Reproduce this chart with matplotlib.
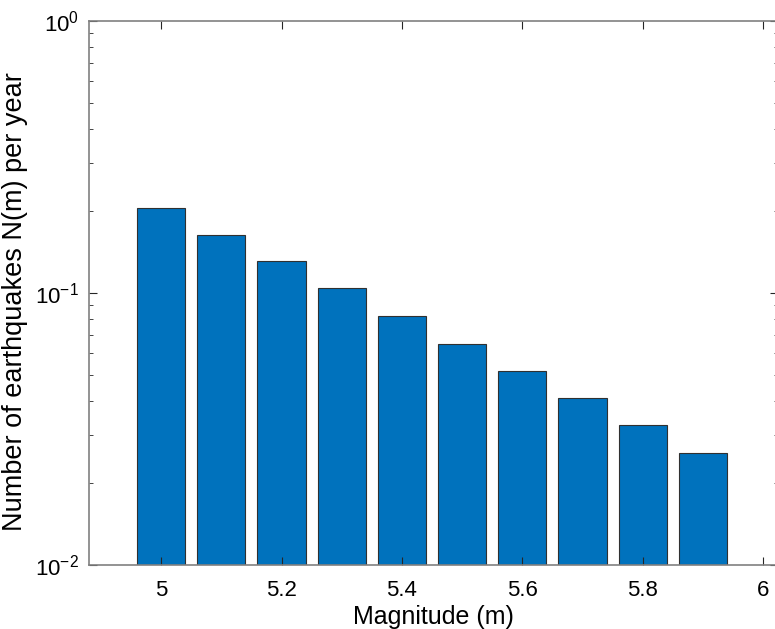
import numpy as np
import matplotlib
matplotlib.use('Agg')
import matplotlib.pyplot as plt
from matplotlib.ticker import LogLocator, FixedLocator

# magnitudes and annual rates
magnitude = [5.0, 5.1, 5.2, 5.3, 5.4, 5.5, 5.6, 5.7, 5.8, 5.9]
rate = [0.206, 0.164, 0.131, 0.104, 0.0826, 0.0652, 0.0518, 0.0412, 0.0328, 0.0259]
xticks = [5, 5.2, 5.4, 5.6, 5.8, 6]
xticklabels = ['5', '5.2', '5.4', '5.6', '5.8', '6']

plt.rcParams['font.family'] = ['Liberation Sans', 'DejaVu Sans']
plt.rcParams['mathtext.fontset'] = 'custom'
plt.rcParams['mathtext.rm'] = 'Liberation Sans'

fig = plt.figure(figsize=(7.75, 6.29), dpi=100)
# axes box runs slightly past the right edge of the picture
ax = fig.add_axes([89 / 775, 1 - 565 / 629, (778 - 89) / 775, (565 - 21) / 629])

ax.bar(magnitude, rate, width=0.08, color='#0072BD', edgecolor='#303030', linewidth=0.8)

ax.set_yscale('log')
ax.set_ylim(1e-2, 1e0)
ax.set_xlim(4.88, 6.025)
ax.xaxis.set_major_locator(FixedLocator(xticks))
ax.set_xticklabels(xticklabels)
ax.yaxis.set_major_locator(LogLocator(base=10, numticks=5))
ax.yaxis.set_minor_locator(LogLocator(base=10, subs=np.arange(2, 10), numticks=20))

ax.tick_params(which='both', direction='in', top=True, right=True, labelsize=16, colors='#262626')
ax.tick_params(which='major', length=6, width=0.8)
ax.tick_params(axis='x', which='major', pad=11)
ax.tick_params(axis='y', which='major', pad=7)
ax.tick_params(which='minor', length=3, width=0.6)
for s in ax.spines.values():
    s.set_color('#808080')
    s.set_linewidth(1.2)
ax.tick_params(axis='both', labelcolor='black')

ax.set_xlabel('Magnitude (m)', fontsize=18, labelpad=3)
ax.set_ylabel('Number of earthquakes N(m) per year', fontsize=19.5)
ax.yaxis.set_label_coords(-0.089, 0.485)

fig.savefig('out.png', dpi=100)
